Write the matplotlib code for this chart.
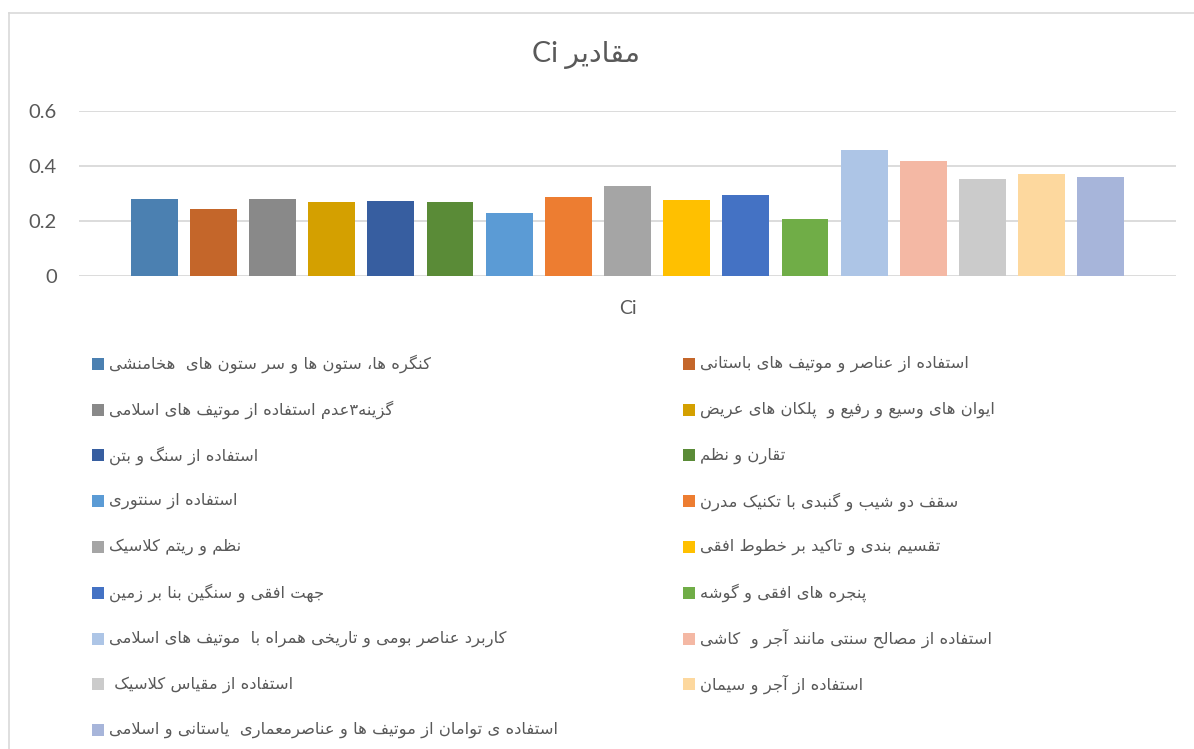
import matplotlib
matplotlib.use("Agg")
import matplotlib.pyplot as plt
import numpy as np
from matplotlib.patches import Rectangle
from matplotlib.lines import Line2D

# data
labels = [
    "کنگره ها، ستون ها و سر ستون های  هخامنشی",
    "استفاده از عناصر و موتیف های باستانی",
    "گزینه۳عدم استفاده از موتیف های اسلامی",
    "ایوان های وسیع و رفیع و  پلکان های عریض",
    "استفاده از سنگ و بتن",
    "تقارن و نظم",
    "استفاده از سنتوری",
    "سقف دو شیب و گنبدی با تکنیک مدرن",
    "نظم و ریتم کلاسیک",
    "تقسیم بندی و تاکید بر خطوط افقی",
    "جهت افقی و سنگین بنا بر زمین",
    "پنجره های افقی و گوشه",
    "کاربرد عناصر بومی و تاریخی همراه با  موتیف های اسلامی",
    "استفاده از مصالح سنتی مانند آجر و  کاشی",
    "استفاده از مقیاس کلاسیک ",
    "استفاده از آجر و سیمان",
    "استفاده ی توامان از موتیف ها و عناصرمعماری  یاستانی و اسلامی",
]
values = [0.280, 0.244, 0.280, 0.269, 0.273, 0.269, 0.229, 0.287, 0.327,
          0.276, 0.295, 0.207, 0.458, 0.418, 0.353, 0.371, 0.360]
colors = ["#4B80B1", "#C4662A", "#898989", "#D4A000", "#375EA0", "#5A8B37",
          "#5B9BD5", "#ED7D31", "#A5A5A5", "#FFC000", "#4472C4", "#70AD47",
          "#ADC5E6", "#F4B8A4", "#CBCBCB", "#FDD89E", "#A7B5DA"]
title_fa = "مقادیر"
category = "Ci"


# minimal Persian shaping (matplotlib has no complex text layout)
def _f(start, n=4):
    return tuple(chr(start + k) for k in range(n))


FORMS = {
    'آ': _f(0xFE81, 2), 'أ': _f(0xFE83, 2), 'ؤ': _f(0xFE85, 2), 'إ': _f(0xFE87, 2),
    'ئ': _f(0xFE89), 'ا': _f(0xFE8D, 2), 'ب': _f(0xFE8F), 'ة': _f(0xFE93, 2),
    'ت': _f(0xFE95), 'ث': _f(0xFE99), 'ج': _f(0xFE9D), 'ح': _f(0xFEA1),
    'خ': _f(0xFEA5), 'د': _f(0xFEA9, 2), 'ذ': _f(0xFEAB, 2), 'ر': _f(0xFEAD, 2),
    'ز': _f(0xFEAF, 2), 'س': _f(0xFEB1), 'ش': _f(0xFEB5), 'ص': _f(0xFEB9),
    'ض': _f(0xFEBD), 'ط': _f(0xFEC1), 'ظ': _f(0xFEC5), 'ع': _f(0xFEC9),
    'غ': _f(0xFECD), 'ف': _f(0xFED1), 'ق': _f(0xFED5), 'ك': _f(0xFED9),
    'ل': _f(0xFEDD), 'م': _f(0xFEE1), 'ن': _f(0xFEE5), 'ه': _f(0xFEE9),
    'و': _f(0xFEED, 2), 'ى': _f(0xFEEF, 2), 'ي': _f(0xFEF1),
    'پ': _f(0xFB56), 'چ': _f(0xFB7A), 'ژ': _f(0xFB8A, 2), 'ک': _f(0xFB8E),
    'گ': _f(0xFB92), 'ی': _f(0xFBFC),
}
LAM_ALEF = {'ا': ('\uFEFB', '\uFEFC'), 'آ': ('\uFEF5', '\uFEF6'),
            'أ': ('\uFEF7', '\uFEF8'), 'إ': ('\uFEF9', '\uFEFA')}


def rtl(s):
    out = []
    prev = False
    i = 0
    while i < len(s):
        c = s[i]
        if c not in FORMS:
            if c != '\u200c':
                out.append(c)
            prev = False
            i += 1
            continue
        if c == 'ل' and i + 1 < len(s) and s[i + 1] in LAM_ALEF:
            iso, fin = LAM_ALEF[s[i + 1]]
            out.append(fin if prev else iso)
            prev = False
            i += 2
            continue
        forms = FORMS[c]
        dual = len(forms) == 4
        nxt = dual and i + 1 < len(s) and s[i + 1] in FORMS
        if prev and nxt:
            g = forms[3]
        elif prev:
            g = forms[1]
        elif nxt:
            g = forms[2]
        else:
            g = forms[0]
        out.append(g)
        prev = dual
        i += 1
    return ''.join(out)[::-1]


W, H = 1194, 749
fig = plt.figure(figsize=(W / 100, H / 100), dpi=100)
grey = "#595959"

# chart border: only top and left edges fall inside the picture
border = dict(transform=fig.transFigure, color="#D9D9D9", linewidth=1.2)
fig.lines.append(Line2D([9 / W, 9 / W], [0, 1 - 13 / H], **border))
fig.lines.append(Line2D([9 / W, 1], [1 - 13 / H, 1 - 13 / H], **border))

ax = fig.add_axes([79 / W, 1 - 276 / H, (1176 - 79) / W, (276 - 111) / H])
x = np.arange(len(values))
ax.bar(x, values, width=0.793, color=colors, zorder=2)
ax.set_xlim(-1.27, len(values) - 1 + 1.27)
ax.set_ylim(0, 0.6)
ax.set_yticks([0, 0.2, 0.4, 0.6])
ax.set_yticklabels(["0", "0.2", "0.4", "0.6"])
ax.set_xticks([])
ax.grid(axis="y", color="#D9D9D9", linewidth=1.3, zorder=0)
ax.set_axisbelow(True)
for sp in ax.spines.values():
    sp.set_visible(False)
ax.tick_params(axis="y", length=0, pad=16, labelsize=14.5, labelcolor=grey)
for t in ax.get_yticklabels():
    t.set_family("Lato")

fig.text(586 / W, 1 - 55 / H, "Ci " + rtl(title_fa), ha="center", va="center",
         fontsize=20.5, color=grey, family=["Lato", "DejaVu Sans"])
fig.text(628 / W, 1 - 308 / H, category, ha="center", va="center",
         fontsize=14, color=grey, family="Lato")

# legend, two columns, row-major like Excel
col_x = [92, 683]
row0, step = 364, 45.75
for i, (lab, col) in enumerate(zip(labels, colors)):
    r, c = divmod(i, 2)
    xm = col_x[c]
    ym = row0 + r * step
    fig.patches.append(Rectangle((xm / W, 1 - (ym + 6) / H), 12 / W, 12 / H,
                                 transform=fig.transFigure, facecolor=col,
                                 edgecolor="none"))
    fig.text((xm + 17) / W, 1 - ym / H, rtl(lab), ha="left", va="center",
             fontsize=11.8, color=grey, family="DejaVu Sans")

fig.savefig("out.png", dpi=100)
